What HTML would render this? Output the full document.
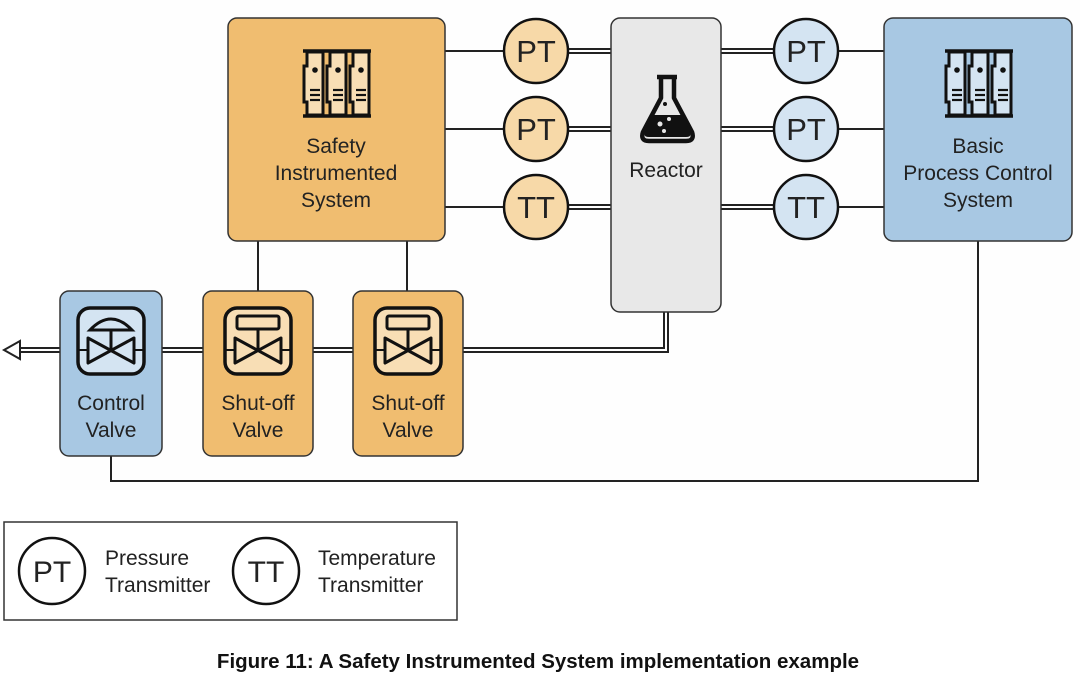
<!DOCTYPE html>
<html><head><meta charset="utf-8"><style>
html,body{margin:0;padding:0;background:#fff;}
svg{display:block;}
text{font-family:"Liberation Sans",sans-serif;fill:#222;}
</style></head><body>
<svg width="1080" height="680" viewBox="0 0 1080 680" xmlns="http://www.w3.org/2000/svg">
<rect width="1080" height="680" fill="#fff"/>
<rect x="60" y="0" width="1020" height="490" fill="#fefefe"/>
<defs>
<g id="rack">
  <line x1="0" y1="1" x2="68" y2="1" stroke="#111" stroke-width="3.5"/>
  <line x1="0" y1="66" x2="68" y2="66" stroke="#111" stroke-width="3.5"/>
  <g id="mod">
    <path d="M4 2 H20 V65 H4 V52 H1 V16 H4 Z" fill="currentColor" stroke="#111" stroke-width="3"/>
    <circle cx="12" cy="20" r="2.8" fill="#111"/>
    <line x1="7" y1="40" x2="17" y2="40" stroke="#111" stroke-width="2.2"/>
    <line x1="7" y1="45" x2="17" y2="45" stroke="#111" stroke-width="2.2"/>
    <line x1="7" y1="50" x2="17" y2="50" stroke="#111" stroke-width="2.2"/>
  </g>
  <use href="#mod" x="23"/>
  <use href="#mod" x="46"/>
</g>
<g id="valveS">
  <rect x="0" y="0" width="66" height="66" rx="12" fill="currentColor" stroke="#111" stroke-width="3.5"/>
  <rect x="12" y="8" width="42" height="13" rx="2" fill="none" stroke="#111" stroke-width="3"/>
  <line x1="33" y1="21" x2="33" y2="42" stroke="#111" stroke-width="3"/>
  <path d="M10 30 L56 55 L56 30 L10 55 Z" fill="none" stroke="#111" stroke-width="3" stroke-linejoin="round"/>
  <line x1="0" y1="42" x2="10" y2="42" stroke="#111" stroke-width="2"/>
  <line x1="56" y1="42" x2="66" y2="42" stroke="#111" stroke-width="2"/>
</g>
</defs>

<g stroke="#222" stroke-width="2" fill="none">
  <line x1="445" y1="51" x2="504" y2="51"/>
  <line x1="445" y1="129" x2="504" y2="129"/>
  <line x1="445" y1="207" x2="504" y2="207"/>
  <line x1="838" y1="51" x2="884" y2="51"/>
  <line x1="838" y1="129" x2="884" y2="129"/>
  <line x1="838" y1="207" x2="884" y2="207"/>
  <line x1="258" y1="241" x2="258" y2="291"/>
  <line x1="407" y1="241" x2="407" y2="291"/>
  <polyline points="111,456 111,481 978,481 978,241"/>
</g>
<g fill="none" stroke-linejoin="miter">
  <g stroke="#222" stroke-width="6">
    <line x1="566" y1="51" x2="612" y2="51"/><line x1="566" y1="129" x2="612" y2="129"/><line x1="566" y1="207" x2="612" y2="207"/>
    <line x1="720" y1="51" x2="776" y2="51"/><line x1="720" y1="129" x2="776" y2="129"/><line x1="720" y1="207" x2="776" y2="207"/>
    <polyline points="666,311 666,350 18,350"/>
  </g>
  <g stroke="#fff" stroke-width="2">
    <line x1="566" y1="51" x2="612" y2="51"/><line x1="566" y1="129" x2="612" y2="129"/><line x1="566" y1="207" x2="612" y2="207"/>
    <line x1="720" y1="51" x2="776" y2="51"/><line x1="720" y1="129" x2="776" y2="129"/><line x1="720" y1="207" x2="776" y2="207"/>
    <polyline points="666,309 666,350 16,350"/>
  </g>
  <path d="M20 341 L4 350 L20 359 Z" fill="#fff" stroke="#222" stroke-width="2"/>
</g>

<rect x="228" y="18" width="217" height="223" rx="9" fill="#f0bd70" stroke="#333" stroke-width="1.5"/>
<use href="#rack" x="303" y="50" style="color:#f8deb5"/>
<g font-size="21" text-anchor="middle">
<text x="336" y="153">Safety</text>
<text x="336" y="180">Instrumented</text>
<text x="336" y="207">System</text>
</g>

<g stroke="#111" stroke-width="2.5" fill="#f7d9a8">
  <circle cx="536" cy="51" r="32"/><circle cx="536" cy="129" r="32"/><circle cx="536" cy="207" r="32"/>
</g>
<g font-size="31" text-anchor="middle">
  <text x="536" y="62">PT</text><text x="536" y="140">PT</text><text x="536" y="218">TT</text>
</g>

<rect x="611" y="18" width="110" height="294" rx="9" fill="#e8e8e8" stroke="#333" stroke-width="1.5"/>
<path d="M657 77 H677 M661 77 V98 L643 132 Q640 141 649 141 H686 Q695 141 692 132 L674 98 V77" fill="none" stroke="#111" stroke-width="4.5" stroke-linejoin="round"/>
<path d="M652 115 H683 L690 132 Q692 137 686 137 H649 Q643 137 645 132 Z" fill="#111"/>
<circle cx="665" cy="104" r="2" fill="#111"/>
<circle cx="660" cy="124" r="2.5" fill="#e8e8e8"/><circle cx="669" cy="119" r="2" fill="#e8e8e8"/><circle cx="664" cy="131" r="2" fill="#e8e8e8"/>
<text x="666" y="177" font-size="21" text-anchor="middle">Reactor</text>

<g stroke="#111" stroke-width="2.5" fill="#d4e4f2">
  <circle cx="806" cy="51" r="32"/><circle cx="806" cy="129" r="32"/><circle cx="806" cy="207" r="32"/>
</g>
<g font-size="31" text-anchor="middle">
  <text x="806" y="62">PT</text><text x="806" y="140">PT</text><text x="806" y="218">TT</text>
</g>

<rect x="884" y="18" width="188" height="223" rx="9" fill="#a8c8e3" stroke="#333" stroke-width="1.5"/>
<use href="#rack" x="945" y="50" style="color:#d4e4f2"/>
<g font-size="21" text-anchor="middle">
<text x="978" y="153">Basic</text>
<text x="978" y="180">Process Control</text>
<text x="978" y="207">System</text>
</g>

<rect x="60" y="291" width="102" height="165" rx="9" fill="#a8c8e3" stroke="#333" stroke-width="1.5"/>
<g transform="translate(78,308)">
  <rect x="0" y="0" width="66" height="66" rx="12" fill="#d4e4f2" stroke="#111" stroke-width="3.5"/>
  <path d="M12 22 Q33 0 54 22 Z" fill="none" stroke="#111" stroke-width="3"/>
  <line x1="33" y1="22" x2="33" y2="42" stroke="#111" stroke-width="3"/>
  <path d="M10 30 L56 55 L56 30 L10 55 Z" fill="none" stroke="#111" stroke-width="3" stroke-linejoin="round"/>
  <line x1="0" y1="42" x2="10" y2="42" stroke="#111" stroke-width="2"/>
  <line x1="56" y1="42" x2="66" y2="42" stroke="#111" stroke-width="2"/>
</g>
<g font-size="21" text-anchor="middle">
<text x="111" y="410">Control</text>
<text x="111" y="437">Valve</text>
</g>

<rect x="203" y="291" width="110" height="165" rx="9" fill="#f0bd70" stroke="#333" stroke-width="1.5"/>
<use href="#valveS" x="225" y="308" style="color:#f8deb5"/>
<rect x="353" y="291" width="110" height="165" rx="9" fill="#f0bd70" stroke="#333" stroke-width="1.5"/>
<use href="#valveS" x="375" y="308" style="color:#f8deb5"/>
<g font-size="21" text-anchor="middle">
<text x="258" y="410">Shut-off</text>
<text x="258" y="437">Valve</text>
<text x="408" y="410">Shut-off</text>
<text x="408" y="437">Valve</text>
</g>

<rect x="4" y="522" width="453" height="98" fill="#fff" stroke="#333" stroke-width="1.5"/>
<circle cx="52" cy="571" r="33" fill="#fff" stroke="#111" stroke-width="2.5"/>
<text x="52" y="582" font-size="30" text-anchor="middle">PT</text>
<circle cx="266" cy="571" r="33" fill="#fff" stroke="#111" stroke-width="2.5"/>
<text x="266" y="582" font-size="30" text-anchor="middle">TT</text>
<g font-size="21">
<text x="105" y="565">Pressure</text>
<text x="105" y="592">Transmitter</text>
<text x="318" y="565">Temperature</text>
<text x="318" y="592">Transmitter</text>
</g>

<text x="538" y="668" font-size="20.5" font-weight="bold" text-anchor="middle" style="fill:#111">Figure 11: A Safety Instrumented System implementation example</text>
</svg>
</body></html>
